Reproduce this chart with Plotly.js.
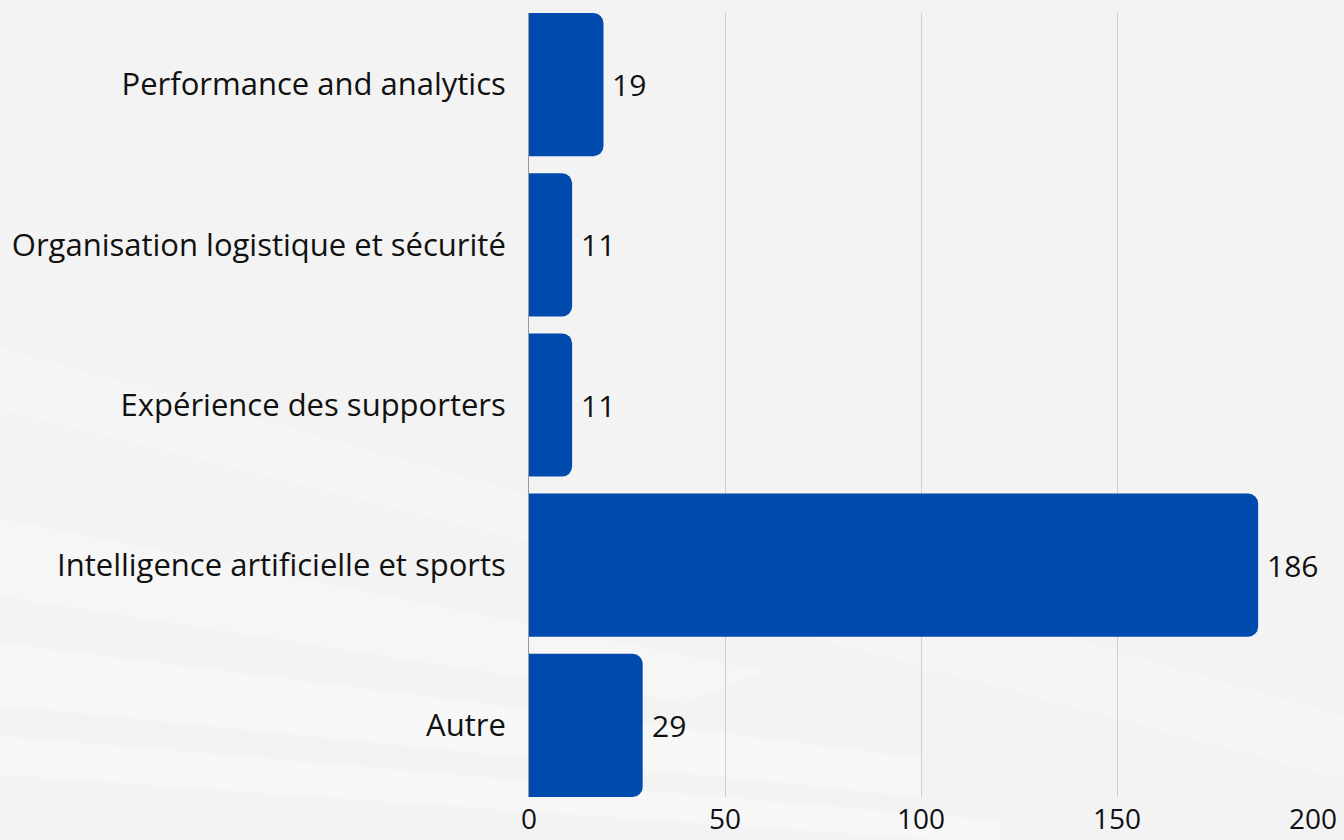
<!DOCTYPE html>
<html>
<head>
<meta charset="utf-8">
<script src="https://cdn.plot.ly/plotly-3.0.1.min.js"></script>
<style>html,body{margin:0;padding:0;background:#f3f3f3;}#chart{width:1344px;height:840px;}</style>
</head>
<body>
<div id="chart"></div>
<script>
const categories = ["Performance and analytics", "Organisation logistique et sécurité", "Expérience des supporters", "Intelligence artificielle et sports", "Autre"];
const values = [19, 11, 11, 186, 29];
const xTicks = [0, 50, 100, 150, 200];

const trace = {
  type: "bar",
  orientation: "h",
  y: categories,
  x: values,
  marker: {color: "#004aad", cornerradius: 10},
  hoverinfo: "none"
};

const labelAnnotations = categories.map((c, i) => ({
  x: values[i],
  y: c,
  xref: "x",
  yref: "y",
  text: String(values[i]),
  showarrow: false,
  xanchor: "left",
  yanchor: "middle",
  xshift: 7,
  font: {family: "Open Sans", size: 30, color: "#111111"}
}));

const bgShapes = [
  {type: "path", xref: "paper", yref: "paper", path: "M -0.7 0.03 L 0.6 -0.06 L 0.6 -0.03 L -0.7 0.08 Z", fillcolor: "rgba(255,255,255,0.35)", line: {width: 0}, layer: "below"},
  {type: "path", xref: "paper", yref: "paper", path: "M -0.7 0.12 L 0.5 0.0 L 0.5 0.05 L -0.7 0.2 Z", fillcolor: "rgba(255,255,255,0.35)", line: {width: 0}, layer: "below"},
  {type: "path", xref: "paper", yref: "paper", path: "M -0.7 0.26 L 0.2 0.12 L 0.3 0.16 L -0.7 0.36 Z", fillcolor: "rgba(255,255,255,0.28)", line: {width: 0}, layer: "below"},
  {type: "path", xref: "paper", yref: "paper", path: "M -0.7 0.5 L 0.1 0.3 L 0.2 0.33 L -0.7 0.58 Z", fillcolor: "rgba(255,255,255,0.2)", line: {width: 0}, layer: "below"},
  {type: "path", xref: "paper", yref: "paper", path: "M 0.3 0.22 L 1.05 0.02 L 1.05 0.1 L 0.35 0.3 Z", fillcolor: "rgba(255,255,255,0.2)", line: {width: 0}, layer: "below"}
];

const layout = {
  width: 1344,
  height: 840,
  margin: {l: 529, r: 31, t: 13, b: 43},
  paper_bgcolor: "#f3f3f3",
  plot_bgcolor: "rgba(0,0,0,0)",
  bargap: 0.106,
  showlegend: false,
  font: {family: "Open Sans", color: "#111111"},
  shapes: bgShapes,
  annotations: labelAnnotations,
  xaxis: {
    range: [0, 200],
    tickvals: xTicks,
    ticktext: xTicks.map(String),
    showgrid: true,
    gridcolor: "#cfcfcf",
    gridwidth: 1,
    zeroline: false,
    showline: false,
    ticks: "",
    ticklabelstandoff: 3,
    tickfont: {family: "Open Sans", size: 28, color: "#111111"},
    fixedrange: true
  },
  yaxis: {
    type: "category",
    categoryorder: "array",
    categoryarray: categories,
    range: [4.447, -0.447],
    showgrid: false,
    zeroline: false,
    showline: true,
    linecolor: "#9a9a9a",
    linewidth: 1,
    ticks: "",
    ticklabelstandoff: 16,
    tickfont: {family: "Open Sans", size: 31, color: "#111111"},
    fixedrange: true
  }
};

Plotly.newPlot("chart", [trace], layout, {displayModeBar: false, staticPlot: true});
</script>
</body>
</html>
